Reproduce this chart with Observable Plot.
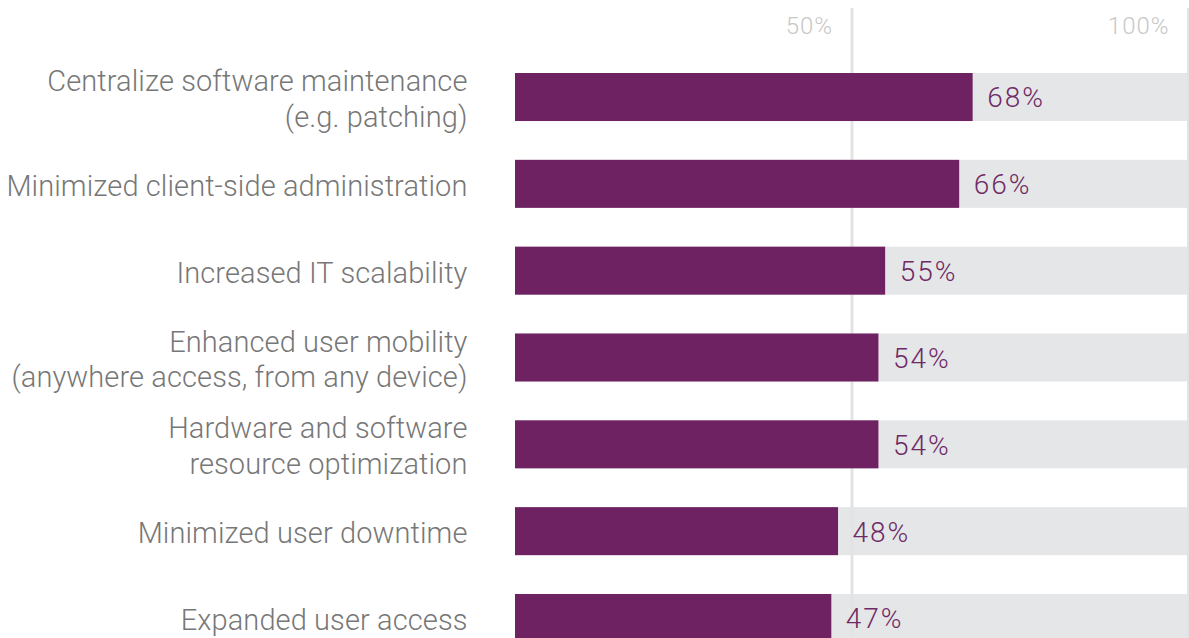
<!DOCTYPE html>
<html>
<head>
<meta charset="utf-8">
<script src="https://cdn.jsdelivr.net/npm/d3@7"></script>
<script src="https://cdn.jsdelivr.net/npm/@observablehq/plot@0.6"></script>
<style>
  html, body { margin: 0; padding: 0; background: #fff; overflow: hidden; }
  #chart svg { display: block; }
</style>
</head>
<body>
<div id="chart"></div>
<script>
const categories = [
  "Centralize software maintenance\n(e.g. patching)",
  "Minimized client-side administration",
  "Increased IT scalability",
  "Enhanced user mobility\n(anywhere access, from any device)",
  "Hardware and software\nresource optimization",
  "Minimized user downtime",
  "Expanded user access"
];
const values = [68, 66, 55, 54, 54, 48, 47];
const tickValues = [50, 100];
const tickLabels = ["50%", "100%"];

const data = categories.map((c, i) => ({category: c, value: values[i], full: 100}));
const ticks = tickValues.map((v, i) => ({v, label: tickLabels[i]}));

const font = "'Helvetica Neue', Roboto, 'Liberation Sans', sans-serif";

const chart = Plot.plot({
  width: 1189,
  height: 681,
  marginLeft: 515,
  marginRight: 1,
  marginTop: 8,
  marginBottom: 0,
  style: {fontFamily: font, background: "#fff"},
  x: {domain: [0, 100], axis: null},
  y: {domain: categories, range: [34.2, 680.8], padding: 0.447, round: false, axis: null},
  marks: [
    Plot.barX(data, {y: "category", x: "full", fill: "#e5e6e8"}),
    Plot.ruleX(tickValues, {stroke: "#e3e3e3", strokeWidth: 3}),
    Plot.text(ticks, {x: "v", text: "label", frameAnchor: "top", lineAnchor: "middle", dy: 17.5, dx: -19, textAnchor: "end", fill: "#c8c8c8", fontSize: 24, fontWeight: 300}),
    Plot.barX(data, {y: "category", x: "value", fill: "#6f2262"}),
    Plot.text(data, {y: "category", x: "value", text: d => d.value + "%", textAnchor: "start", dx: 14, dy: 1, fill: "#6f2a66", fontSize: 28, fontWeight: 300}),
    Plot.text(data, {y: "category", x: 0, text: "category", textAnchor: "end", dx: -48, fill: "#777777", fontSize: 29, fontWeight: 300, lineHeight: 1.24})
  ]
});
const groups = chart.querySelectorAll('g[aria-label="text"]');
if (groups.length === 3) {
  groups[0].style.letterSpacing = "1px";
  groups[1].style.letterSpacing = "2px";
  groups[2].style.letterSpacing = "0.1px";
}
document.getElementById("chart").appendChild(chart);
</script>
</body>
</html>
